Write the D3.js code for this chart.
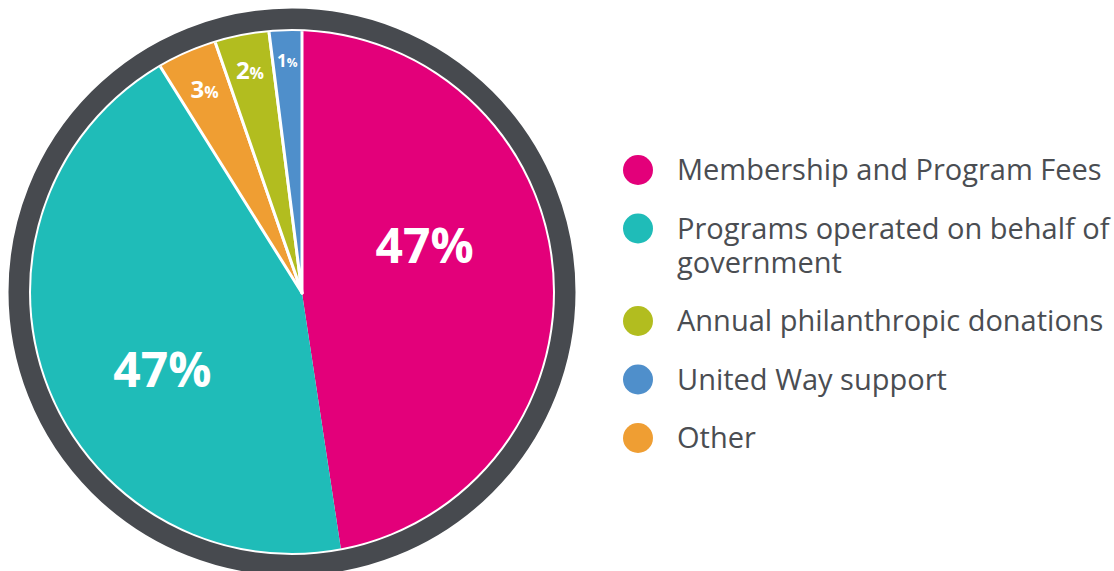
<!DOCTYPE html>
<html>
<head>
<meta charset="utf-8">
<script src="https://cdn.jsdelivr.net/npm/d3@7"></script>
<style>
  body { margin: 0; background: #fff; }
  text { font-family: "Open Sans", sans-serif; }
</style>
</head>
<body>
<svg width="1114" height="571"></svg>
<script>
// legend order
var categories = ["Membership and Program Fees", "Programs operated on behalf of government",
                  "Annual philanthropic donations", "United Way support", "Other"];
var legendLines = [["Membership and Program Fees"], ["Programs operated on behalf of", "government"],
                   ["Annual philanthropic donations"], ["United Way support"], ["Other"]];
// share of the circle as drawn (measured), and the percentage printed on the slice
var sliceShares = [47.6, 43.5, 3.3, 2.0, 3.6];
var printedPct = [47, 47, 2, 1, 3];
var colors = ["#e3007a", "#1fbcb8", "#b2bd1f", "#4f8fcb", "#ef9e33"];
// clockwise order from 12 o'clock
var pieOrder = [0, 1, 4, 2, 3];

function main() {
    var svg = d3.select("svg");

    var cx = 292, cy = 292, r = 261,
        apex = [302, 293],
        ringR = 273.25, ringW = 20.5;

    // label placement per slice (legend order)
    var labelStyle = [
        {r: 123, dy: -38, size: 48, pctSize: 48},
        {r: 149, dy: 25, size: 48, pctSize: 48},
        {r: 229, dy: 0, size: 24, pctSize: 16},
        {r: 233, dy: 0, size: 17, pctSize: 12},
        {r: 226, dy: 0, size: 24, pctSize: 16}
    ];

    var data = categories.map(function(c, i) {
        return {i: i, name: c, share: sliceShares[i], pct: printedPct[i], color: colors[i]};
    });

    var pie = d3.pie()
        .value(function(d) { return d.share; })
        .sort(function(a, b) { return pieOrder.indexOf(a.i) - pieOrder.indexOf(b.i); });
    var arcs = pie(data);

    svg.append("defs").append("clipPath")
        .attr("id", "disc")
        .append("circle")
        .attr("cx", cx).attr("cy", cy).attr("r", r);

    var arc = d3.arc().innerRadius(0).outerRadius(320);

    var g = svg.append("g").attr("clip-path", "url(#disc)")
        .append("g")
        .attr("transform", "translate(" + apex[0] + "," + apex[1] + ")");

    // big slices first, small ones on top with white edges
    var sorted = arcs.slice().sort(function(a, b) { return b.data.share - a.data.share; });
    g.selectAll("path")
        .data(sorted)
        .enter()
        .append("path")
        .attr("d", arc)
        .attr("fill", function(d) { return d.data.color; })
        .attr("stroke", "#fff")
        .attr("stroke-width", function(d) { return d.data.share > 10 ? 0 : 3; })
        .attr("stroke-linejoin", "round");

    // dark ring
    svg.append("circle")
        .attr("cx", cx).attr("cy", cy).attr("r", ringR)
        .attr("fill", "none")
        .attr("stroke", "#474a4f")
        .attr("stroke-width", ringW);

    // slice labels
    var lab = svg.append("g")
        .attr("transform", "translate(" + apex[0] + "," + apex[1] + ")");
    arcs.forEach(function(d) {
        var s = labelStyle[d.data.i];
        var p = d3.arc().innerRadius(s.r).outerRadius(s.r).centroid(d);
        var t = lab.append("text")
            .attr("x", p[0])
            .attr("y", p[1] + s.dy + s.size * 0.36)
            .attr("text-anchor", "middle")
            .attr("fill", "#fff")
            .attr("font-weight", "bold")
            .attr("font-size", s.size + "px");
        t.append("tspan").text(d.data.pct);
        t.append("tspan").attr("font-size", s.pctSize + "px").text("%");
    });

    // legend
    var legX = 638, legY = 170, rowGap = 58.5, lineH = 34;
    var legend = svg.append("g");
    var y = legY;
    legendLines.forEach(function(lines, i) {
        legend.append("circle")
            .attr("cx", legX).attr("cy", y).attr("r", 15)
            .attr("fill", colors[i]);
        lines.forEach(function(line, k) {
            legend.append("text")
                .attr("x", legX + 39)
                .attr("y", y + 10 + k * lineH)
                .attr("font-size", "29px")
                .attr("fill", "#4a4d52")
                .text(line);
        });
        y += rowGap + (lines.length - 1) * lineH;
    });
}
main();
</script>
</body>
</html>
